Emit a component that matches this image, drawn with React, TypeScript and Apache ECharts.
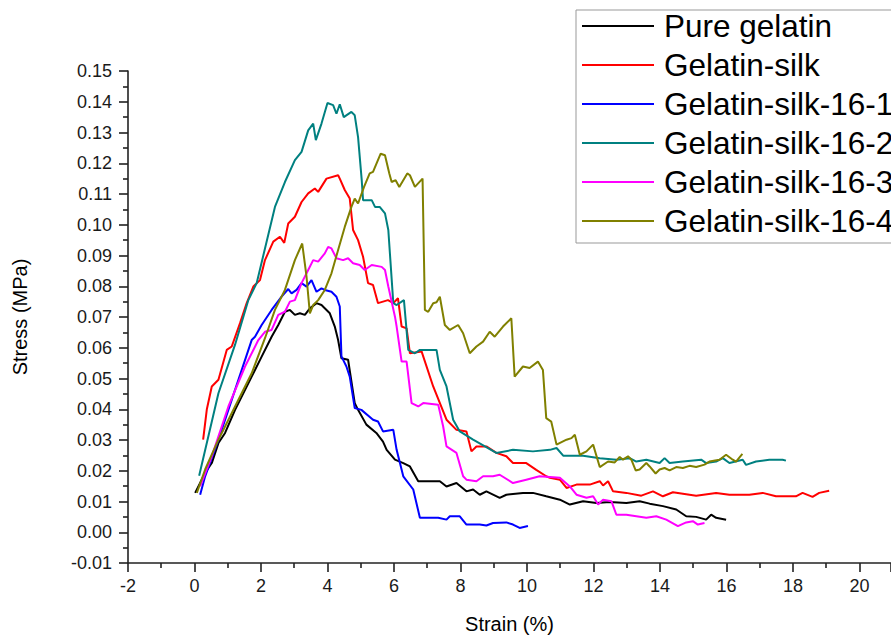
import React, { useEffect, useRef } from "react";
import * as echarts from "echarts";

const seriesNames = [
  "Pure gelatin",
  "Gelatin-silk",
  "Gelatin-silk-16-1",
  "Gelatin-silk-16-2",
  "Gelatin-silk-16-3",
  "Gelatin-silk-16-4",
];
const seriesColors = ["#000000", "#ff0000", "#0000ff", "#008080", "#ff00ff", "#808000"];

const xTitle = "Strain (%)";
const yTitle = "Stress (MPa)";

const pureGelatin = [
  [0.02, 0.0128], [0.32, 0.0193], [0.52, 0.0225], [0.72, 0.029], [0.92, 0.0323], [1.22, 0.0398],
  [1.72, 0.0506], [2.02, 0.0571], [2.32, 0.0636], [2.52, 0.0674], [2.72, 0.0717], [2.87, 0.0723],
  [3.02, 0.0707], [3.17, 0.0712], [3.32, 0.0707], [3.47, 0.0728], [3.67, 0.0745], [3.82, 0.0739],
  [4.07, 0.0712], [4.22, 0.0669], [4.32, 0.0625], [4.42, 0.0566], [4.62, 0.0561], [4.82, 0.042],
  [4.92, 0.0398], [5.17, 0.035], [5.47, 0.0323], [5.67, 0.0295], [5.78, 0.0268], [6.03, 0.0236],
  [6.28, 0.0225], [6.48, 0.0214], [6.73, 0.0166], [7.38, 0.0166], [7.58, 0.0149], [7.88, 0.016],
  [8.18, 0.0133], [8.38, 0.0139], [8.58, 0.0122], [8.78, 0.0133], [9.18, 0.0112], [9.38, 0.0122],
  [9.88, 0.0128], [10.18, 0.0128], [10.58, 0.0117], [10.99, 0.0106], [11.29, 0.009], [11.69, 0.0101],
  [12.09, 0.0095], [12.49, 0.0098], [12.99, 0.0095], [13.39, 0.0101], [13.69, 0.0093], [14.09, 0.0085],
  [14.49, 0.0074], [14.79, 0.0052], [15.09, 0.005], [15.39, 0.0041], [15.54, 0.0057], [15.69, 0.0047],
  [15.99, 0.0041],
];

const gelatinSilk = [
  [0.26, 0.0301], [0.37, 0.0399], [0.52, 0.0474], [0.72, 0.0496], [0.97, 0.0593], [1.12, 0.0604],
  [1.37, 0.068], [1.57, 0.0745], [1.77, 0.0799], [1.97, 0.082], [2.12, 0.0885], [2.37, 0.0945],
  [2.57, 0.0961], [2.7, 0.0941], [2.82, 0.1004], [3.02, 0.1026], [3.22, 0.1074], [3.42, 0.1102],
  [3.62, 0.1118], [3.72, 0.1107], [3.97, 0.115], [4.32, 0.1161], [4.37, 0.115], [4.52, 0.1113],
  [4.67, 0.1085], [4.77, 0.0983], [4.92, 0.095], [5.07, 0.0896], [5.22, 0.081], [5.37, 0.0804],
  [5.52, 0.0745], [5.82, 0.0755], [5.98, 0.0745], [6.12, 0.0761], [6.23, 0.0669], [6.38, 0.0663],
  [6.48, 0.0582], [6.83, 0.0588], [7.18, 0.0474], [7.58, 0.0366], [7.88, 0.0333], [8.18, 0.0328],
  [8.33, 0.0263], [8.48, 0.0279], [8.78, 0.0279], [9.08, 0.0258], [9.38, 0.0247], [9.58, 0.0225],
  [9.98, 0.0225], [10.28, 0.0203], [10.58, 0.0182], [10.69, 0.0177], [10.99, 0.0171], [11.19, 0.0144],
  [11.49, 0.0155], [11.89, 0.0155], [12.19, 0.0166], [12.29, 0.0152], [12.44, 0.0166], [12.59, 0.0133],
  [12.99, 0.0128], [13.44, 0.0119], [13.79, 0.0133], [14.09, 0.0117], [14.39, 0.013], [15.09, 0.0119],
  [15.69, 0.0128], [16.09, 0.0122], [16.69, 0.0122], [17.09, 0.0128], [17.49, 0.0117], [18.09, 0.0117],
  [18.29, 0.0128], [18.59, 0.0115], [18.79, 0.0128], [19.09, 0.0135],
];

const silk16_1 = [
  [0.17, 0.0122], [0.32, 0.0182], [0.72, 0.0301], [1.22, 0.0463], [1.72, 0.0625], [1.82, 0.0636],
  [2.02, 0.0674], [2.32, 0.0723], [2.62, 0.0766], [2.82, 0.0791], [2.92, 0.0777], [3.07, 0.0788],
  [3.22, 0.081], [3.37, 0.0799], [3.52, 0.082], [3.67, 0.0782], [3.82, 0.0793], [3.92, 0.0788],
  [4.12, 0.0782], [4.27, 0.0766], [4.37, 0.0734], [4.42, 0.0572], [4.57, 0.0539], [4.67, 0.0506],
  [4.82, 0.0404], [5.02, 0.0398], [5.37, 0.0366], [5.52, 0.036], [5.67, 0.0328], [5.98, 0.0333],
  [6.08, 0.0268], [6.28, 0.0182], [6.58, 0.0139], [6.78, 0.0047], [6.98, 0.0047], [7.33, 0.0047],
  [7.58, 0.0041], [7.68, 0.0052], [7.98, 0.0052], [8.18, 0.0025], [8.58, 0.0025], [8.78, 0.0022],
  [8.98, 0.003], [9.38, 0.0032], [9.58, 0.0025], [9.78, 0.0014], [10.03, 0.002],
];

const silk16_2 = [
  [0.14, 0.0184], [0.72, 0.0452], [1.22, 0.061], [1.62, 0.0755], [1.87, 0.081], [2.42, 0.1058],
  [2.72, 0.1139], [3.02, 0.121], [3.22, 0.1237], [3.42, 0.1307], [3.57, 0.1329], [3.65, 0.1275],
  [3.82, 0.1329], [4.0, 0.1396], [4.17, 0.1389], [4.27, 0.1361], [4.37, 0.1392], [4.49, 0.135],
  [4.72, 0.1367], [4.82, 0.1356], [4.92, 0.1285], [5.03, 0.1145], [5.07, 0.108], [5.33, 0.108],
  [5.43, 0.1058], [5.57, 0.1058], [5.73, 0.1037], [5.83, 0.0983], [5.98, 0.0745], [6.08, 0.0739],
  [6.3, 0.0755], [6.43, 0.0593], [6.63, 0.0582], [6.78, 0.0593], [7.28, 0.0593], [7.38, 0.0528],
  [7.58, 0.0474], [7.78, 0.0366], [7.98, 0.0328], [8.38, 0.0301], [9.08, 0.0258], [9.58, 0.0268],
  [10.18, 0.0263], [10.69, 0.0268], [10.89, 0.0274], [11.09, 0.0249], [11.69, 0.0249], [12.19, 0.0241],
  [12.69, 0.0236], [13.09, 0.0241], [13.29, 0.023], [13.59, 0.0236], [13.99, 0.0225], [14.14, 0.0241],
  [14.29, 0.0225], [14.69, 0.023], [15.24, 0.0236], [15.39, 0.0225], [15.69, 0.023], [15.89, 0.0241],
  [16.09, 0.0225], [16.49, 0.0236], [16.59, 0.0219], [16.89, 0.023], [17.29, 0.0236], [17.69, 0.0236],
  [17.79, 0.0233],
];

const silk16_3 = [
  [0.17, 0.0149], [0.52, 0.0247], [1.02, 0.0409], [1.52, 0.0539], [1.92, 0.0625], [2.12, 0.0652],
  [2.32, 0.0658], [2.52, 0.0707], [2.72, 0.0717], [2.87, 0.075], [3.02, 0.0755], [3.22, 0.081],
  [3.42, 0.0853], [3.57, 0.0885], [3.72, 0.088], [3.92, 0.0907], [4.02, 0.0928], [4.12, 0.0923],
  [4.27, 0.0891], [4.47, 0.0885], [4.62, 0.0891], [4.77, 0.0875], [4.97, 0.0869], [5.12, 0.0853],
  [5.33, 0.0869], [5.63, 0.0863], [5.73, 0.0853], [5.83, 0.0799], [6.03, 0.0701], [6.08, 0.0669],
  [6.23, 0.0555], [6.38, 0.0555], [6.53, 0.042], [6.73, 0.0409], [6.88, 0.042], [7.33, 0.0415],
  [7.48, 0.0344], [7.58, 0.0279], [7.88, 0.0258], [8.08, 0.0182], [8.18, 0.0171], [8.48, 0.0166],
  [8.68, 0.0182], [8.98, 0.0182], [9.18, 0.0187], [9.58, 0.016], [9.98, 0.0171], [10.38, 0.0182],
  [10.69, 0.018], [10.99, 0.0177], [11.29, 0.0149], [11.49, 0.0122], [11.79, 0.0112], [11.99, 0.0117],
  [12.14, 0.009], [12.29, 0.0106], [12.54, 0.0101], [12.69, 0.0057], [12.99, 0.0057], [13.29, 0.0052],
  [13.59, 0.0047], [13.89, 0.0052], [14.19, 0.0041], [14.54, 0.002], [14.79, 0.0032], [14.99, 0.0036],
  [15.14, 0.0025], [15.34, 0.003],
];

const silk16_4 = [
  [0.07, 0.0128], [0.32, 0.0204], [0.72, 0.0301], [1.22, 0.0409], [1.72, 0.0517], [2.12, 0.0631],
  [2.42, 0.0723], [2.72, 0.0788], [3.02, 0.0885], [3.24, 0.0939], [3.37, 0.0831], [3.47, 0.0712],
  [3.57, 0.0739], [3.72, 0.0755], [3.92, 0.0788], [4.12, 0.0842], [4.32, 0.0918], [4.52, 0.0993],
  [4.72, 0.1058], [4.82, 0.1085], [4.92, 0.1069], [5.1, 0.1123], [5.27, 0.1167], [5.37, 0.1172],
  [5.6, 0.1231], [5.73, 0.1226], [5.86, 0.1167], [5.93, 0.1139], [6.05, 0.1145], [6.16, 0.1123],
  [6.4, 0.1167], [6.48, 0.1161], [6.63, 0.1123], [6.86, 0.115], [6.93, 0.0723], [7.03, 0.0717],
  [7.18, 0.0745], [7.28, 0.0748], [7.38, 0.0766], [7.53, 0.0674], [7.68, 0.0658], [7.93, 0.0674],
  [8.08, 0.0647], [8.28, 0.0582], [8.48, 0.0604], [8.68, 0.062], [8.88, 0.0652], [9.03, 0.0636],
  [9.28, 0.0669], [9.53, 0.0696], [9.63, 0.0506], [9.88, 0.0539], [10.08, 0.0534], [10.33, 0.0555],
  [10.48, 0.0528], [10.58, 0.0371], [10.73, 0.036], [10.89, 0.0285], [11.19, 0.0301], [11.34, 0.0306],
  [11.44, 0.0317], [11.59, 0.0252], [11.79, 0.0263], [11.99, 0.0285], [12.19, 0.0212], [12.44, 0.023],
  [12.64, 0.0227], [12.79, 0.0245], [12.89, 0.0236], [13.04, 0.0247], [13.14, 0.0236], [13.27, 0.0201],
  [13.39, 0.0204], [13.59, 0.0225], [13.69, 0.0214], [13.87, 0.0191], [13.99, 0.0204], [14.14, 0.0209],
  [14.29, 0.0201], [14.49, 0.0212], [14.69, 0.0209], [14.89, 0.0216], [15.09, 0.0212], [15.34, 0.022],
  [15.49, 0.023], [15.79, 0.0236], [15.99, 0.0252], [16.19, 0.0236], [16.29, 0.023], [16.48, 0.0255],
];

const seriesData = [pureGelatin, gelatinSilk, silk16_1, silk16_2, silk16_3, silk16_4];

const FONT = '"Liberation Sans", Arial, Helvetica, sans-serif';
const AXIS_COLOR = "#222222";

export default function App() {
  const ref = useRef<HTMLDivElement>(null);

  useEffect(() => {
    if (!ref.current) return;
    const chart = echarts.init(ref.current, null, { renderer: "svg" });
    const axisCommon = {
      axisLine: { show: true, onZero: false, lineStyle: { color: AXIS_COLOR, width: 1.6 } },
      axisTick: { show: true, inside: false, length: 9, lineStyle: { color: AXIS_COLOR, width: 1.6 } },
      minorTick: { show: true, splitNumber: 2, length: 5, lineStyle: { color: AXIS_COLOR, width: 1.6 } },
      splitLine: { show: false },
      minorSplitLine: { show: false },
    };
    chart.setOption({
      animation: false,
      backgroundColor: "#ffffff",
      grid: { left: 128, right: 0, top: 71, bottom: 75, containLabel: false },
      legend: {
        show: true,
        orient: "vertical",
        align: "left",
        left: 576,
        top: 10,
        padding: [0, 90, 6, 6],
        itemGap: 7,
        itemWidth: 72,
        itemHeight: 34,
        icon: "path://M0,0H72V2.2H0Z",
        itemStyle: { borderWidth: 0 },
        borderColor: "#999999",
        borderWidth: 1,
        backgroundColor: "#ffffff",
        selectedMode: false,
        data: seriesNames,
        textStyle: { fontSize: 31.5, fontFamily: FONT, color: "#000000", padding: [0, 0, 0, 5] },
      },
      xAxis: {
        type: "value",
        min: -2,
        max: 20.95,
        interval: 2,
        name: xTitle,
        nameLocation: "middle",
        nameGap: 51,
        nameTextStyle: { fontSize: 20, fontFamily: FONT, color: "#000000" },
        axisLabel: {
          showMaxLabel: false,
          margin: 14,
          fontSize: 18,
          fontFamily: FONT,
          color: "#1a1a1a",
        },
        ...axisCommon,
      },
      yAxis: {
        type: "value",
        min: -0.01,
        max: 0.15,
        interval: 0.01,
        name: yTitle,
        nameLocation: "middle",
        nameRotate: 90,
        nameGap: 98,
        nameTextStyle: { fontSize: 20, fontFamily: FONT, color: "#000000" },
        axisLabel: {
          margin: 16,
          fontSize: 18,
          fontFamily: FONT,
          color: "#1a1a1a",
          formatter: (v: number) => v.toFixed(2),
        },
        ...axisCommon,
      },
      series: seriesNames.map((name, i) => ({
        name,
        type: "line",
        data: seriesData[i],
        symbol: "none",
        showSymbol: false,
        color: seriesColors[i],
        itemStyle: { color: seriesColors[i] },
        lineStyle: { color: seriesColors[i], width: 2 },
        z: 2,
      })),
    });
    return () => chart.dispose();
  }, []);

  return (
    <div
      ref={ref}
      style={{ position: "absolute", left: 0, top: 0, width: 891, height: 639, overflow: "hidden" }}
    />
  );
}
